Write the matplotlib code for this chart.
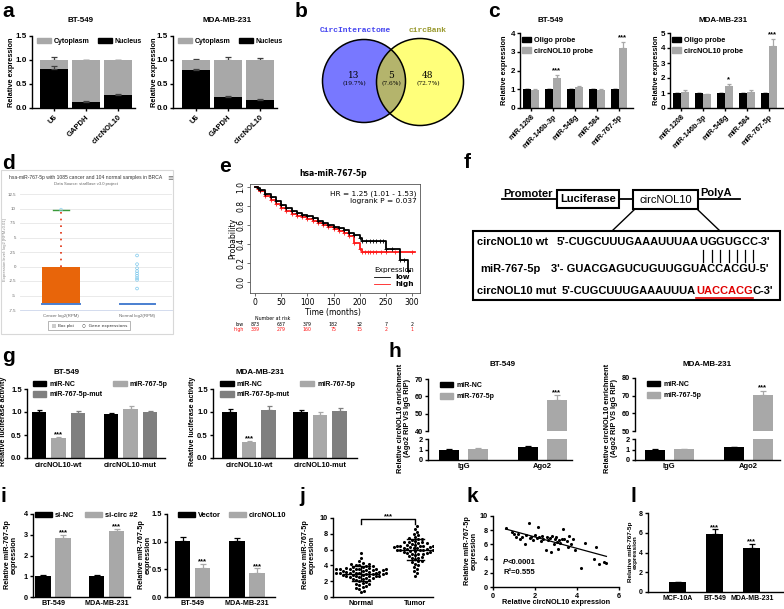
"""
circNOL10 / miR-767-5p 组合图（a–l 共 12 个子图）

直接按像素位置摆放各子图，输出 out.png（784x609）。
"""

import matplotlib
matplotlib.use("Agg")
import matplotlib.pyplot as plt
import numpy as np
from matplotlib.lines import Line2D
from matplotlib.patches import Circle, Patch, Rectangle

W, H, DPI = 784, 609, 100

# ---------------------------------------------------------------------------
# 数据
# ---------------------------------------------------------------------------

# a: 核质分布
A_GENES = ["U6", "GAPDH", "circNOL10"]
A_BT_NUC = [0.82, 0.13, 0.28]
A_BT_NUC_ERR = [0.06, 0.02, 0.02]
A_BT_TOT_ERR = [0.06, 0.01, 0.01]
A_MDA_NUC = [0.80, 0.22, 0.17]
A_MDA_NUC_ERR = [0.02, 0.03, 0.02]
A_MDA_TOT_ERR = [0.03, 0.06, 0.04]

# b: Venn
B_SETS = ["CircInteractome", "circBank"]
B_COUNTS = [13, 5, 48]
B_PCTS = ["(19.7%)", "(7.6%)", "(72.7%)"]

# c: RNA pull-down
C_MIRS = ["miR-1208", "miR-146b-3p", "miR-548g", "miR-584", "miR-767-5p"]
C_BT_OLIGO = [1.0, 1.0, 1.0, 1.0, 1.0]
C_BT_PROBE = [0.97, 1.62, 1.10, 0.98, 3.20]
C_BT_ERR = [0.04, 0.15, 0.10, 0.04, 0.32]
C_BT_SIG = ["", "***", "", "", "***"]
C_MDA_OLIGO = [1.0, 1.0, 1.0, 1.0, 1.0]
C_MDA_PROBE = [1.10, 0.93, 1.48, 1.10, 4.15]
C_MDA_ERR = [0.08, 0.02, 0.12, 0.08, 0.45]
C_MDA_SIG = ["", "", "*", "", "***"]

# d: starBase 箱线图
D_GROUPS = ["Cancer log2(RPM)", "Normal log2(RPM)"]
D_YTICKS = [-7.5, -5, -2.5, 0, 2.5, 5, 7.5, 10, 12.5]
D_YTICKLABELS = ["-7.5", "-5", "-2.5", "0", "2.5", "5", "7.5", "10", "12.5"]
D_CANCER_Q3 = 0.0
D_CANCER_MED = -6.4
D_CANCER_MAX = 9.8
D_NORMAL_MED = -6.4
D_NORMAL_OUT = [1.9, 0.4, -0.3, -0.8, -1.2, -1.6, -2.0, -2.3, -3.8]

# e: Kaplan-Meier
E_LOW_T = [0, 5, 10, 20, 30, 40, 50, 60, 70, 80, 90, 100, 110, 120, 130, 140,
           150, 160, 170, 180, 190, 200, 205, 250, 277, 293]
E_LOW_S = [1.0, 0.99, 0.97, 0.93, 0.89, 0.85, 0.81, 0.78, 0.75, 0.73, 0.71, 0.69,
           0.67, 0.645, 0.625, 0.60, 0.58, 0.565, 0.545, 0.52, 0.49, 0.46, 0.43,
           0.35, 0.23, 0.12]
E_LOW_END = 296
E_LOW_CENSOR = [212, 220, 226, 232, 238, 244, 262, 285]
E_HIGH_T = [0, 5, 10, 20, 30, 40, 50, 60, 70, 80, 90, 100, 110, 120, 130, 140,
            150, 160, 170, 180, 190, 200, 205]
E_HIGH_S = [1.0, 0.98, 0.96, 0.91, 0.86, 0.82, 0.78, 0.75, 0.72, 0.70, 0.68,
            0.66, 0.64, 0.62, 0.60, 0.58, 0.555, 0.54, 0.52, 0.48, 0.41, 0.35, 0.32]
E_HIGH_END = 305
E_HIGH_CENSOR = [210, 215, 220, 226, 232, 240, 250, 268, 300]
E_RISK_T = [0, 50, 100, 150, 200, 250, 300]
E_RISK_LOW = [873, 637, 379, 182, 32, 7, 2]
E_RISK_HIGH = [389, 279, 160, 75, 15, 2, 1]

# g: 双荧光素酶
G_GROUPS = ["circNOL10-wt", "circNOL10-mut"]
G_SERIES = ["miR-NC", "miR-767-5p", "miR-767-5p-mut"]
G_BT = [[1.01, 0.95], [0.43, 1.06], [0.97, 0.99]]
G_BT_ERR = [[0.03, 0.03], [0.03, 0.06], [0.06, 0.03]]
G_BT_SIG = [["", ""], ["***", ""], ["", ""]]
G_MDA = [[1.01, 1.00], [0.34, 0.94], [1.05, 1.03]]
G_MDA_ERR = [[0.05, 0.04], [0.03, 0.05], [0.07, 0.05]]
G_MDA_SIG = [["", ""], ["***", ""], ["", ""]]

# h: RIP
H_GROUPS = ["IgG", "Ago2"]
H_BT_NC = [1.0, 1.25]
H_BT_NC_ERR = [0.03, 0.08]
H_BT_MIR = [1.06, 57.8]
H_BT_MIR_ERR = [0.05, 3.0]
H_MDA_NC = [1.0, 1.22]
H_MDA_NC_ERR = [0.03, 0.05]
H_MDA_MIR = [1.05, 70.3]
H_MDA_MIR_ERR = [0.04, 2.6]

# i: 敲低 / 过表达
I_CELLS = ["BT-549", "MDA-MB-231"]
I_SINC = [1.02, 1.02]
I_SINC_ERR = [0.05, 0.05]
I_SICIRC = [2.85, 3.18]
I_SICIRC_ERR = [0.15, 0.12]
I_VECTOR = [1.01, 1.01]
I_VECTOR_ERR = [0.07, 0.05]
I_OE = [0.52, 0.43]
I_OE_ERR = [0.08, 0.09]

# j: 组织表达
J_NORMAL = [5.6, 4.9, 4.5, 4.3, 4.2, 4.2, 4.1, 4.0, 3.9, 3.9, 3.8, 3.8, 3.7, 3.7,
            3.6, 3.6, 3.6, 3.5, 3.5, 3.5, 3.5, 3.4, 3.4, 3.4, 3.3, 3.3, 3.3, 3.2,
            3.2, 3.2, 3.1, 3.1, 3.1, 3.0, 3.0, 3.0, 3.0, 2.9, 2.9, 2.9, 2.8, 2.8,
            2.8, 2.7, 2.7, 2.7, 2.6, 2.6, 2.5, 2.5, 2.4, 2.4, 2.3, 2.3, 2.2, 2.1,
            2.0, 1.9, 1.8, 1.7, 1.6, 1.5, 1.4, 1.3, 1.1, 1.0, 0.8, 0.6]
J_TUMOR = [9.0, 8.6, 8.2, 8.0, 7.8, 7.6, 7.5, 7.4, 7.3, 7.2, 7.1, 7.0, 7.0, 6.9,
           6.8, 6.8, 6.7, 6.6, 6.6, 6.5, 6.5, 6.5, 6.4, 6.4, 6.3, 6.3, 6.3, 6.2,
           6.2, 6.2, 6.1, 6.1, 6.1, 6.0, 6.0, 6.0, 5.9, 5.9, 5.8, 5.8, 5.7, 5.7,
           5.6, 5.6, 5.5, 5.5, 5.4, 5.3, 5.2, 5.1, 5.0, 4.9, 4.8, 4.6, 4.5, 4.4,
           4.2, 4.0, 3.8, 3.6, 3.3, 3.0, 2.6]
J_GROUPS = ["Normal", "Tumor"]

# k: 相关性
K_X = [0.6, 0.9, 1.0, 1.1, 1.2, 1.3, 1.4, 1.5, 1.55, 1.7, 1.75, 1.8, 1.9, 2.0,
       2.1, 2.15, 2.2, 2.3, 2.35, 2.4, 2.5, 2.55, 2.6, 2.7, 2.75, 2.8, 2.9, 2.95,
       3.0, 3.05, 3.1, 3.15, 3.2, 3.3, 3.35, 3.4, 3.5, 3.55, 3.6, 3.7, 3.8, 3.9,
       4.2, 4.4, 4.8, 4.9, 5.05, 5.3, 5.4]
K_Y = [8.3, 7.7, 7.4, 7.0, 7.5, 6.8, 7.1, 6.0, 7.3, 9.0, 6.9, 7.0, 6.6, 7.3,
       6.9, 8.4, 7.0, 6.5, 7.2, 6.8, 5.2, 7.0, 6.6, 6.9, 4.9, 7.2, 6.0, 6.7,
       7.0, 6.4, 5.3, 6.6, 6.2, 6.8, 8.2, 6.7, 6.5, 5.7, 7.2, 6.0, 6.7, 5.2,
       2.7, 6.2, 3.9, 5.6, 3.2, 3.5, 3.4]

# l: 细胞系表达
L_CELLS = ["MCF-10A", "BT-549", "MDA-MB-231"]
L_VALS = [1.0, 5.85, 4.45]
L_ERR = [0.06, 0.50, 0.40]
L_SIG = ["", "***", "***"]

# ---------------------------------------------------------------------------
# 样式
# ---------------------------------------------------------------------------

BLACK = "#000000"
LGRAY = "#a8a8a8"
DGRAY = "#7f7f7f"
ERRC = "#404040"

plt.rcParams.update({
    "font.family": ["Liberation Sans", "DejaVu Sans"],
    "font.weight": "bold",
    "axes.labelweight": "bold",
    "axes.linewidth": 1.0,
    "xtick.major.width": 1.0,
    "ytick.major.width": 1.0,
    "xtick.major.size": 2.5,
    "ytick.major.size": 2.5,
    "xtick.major.pad": 1.5,
    "ytick.major.pad": 1.2,
    "xtick.labelsize": 5.5,
    "ytick.labelsize": 5.5,
})

fig = plt.figure(figsize=(W / DPI, H / DPI), dpi=DPI)
fig.patch.set_facecolor("white")


def add_ax(left, top, right, bottom):
    """按像素矩形添加坐标轴（原点在左上）。"""
    return fig.add_axes([left / W, 1 - bottom / H, (right - left) / W, (bottom - top) / H])


def ptext(x, y, s, **kw):
    return fig.text(x / W, 1 - y / H, s, **kw)


def chain(x, y, parts, **kw):
    """依次拼接多段文字，返回每段的像素横向范围。"""
    renderer = fig.canvas.get_renderer()
    spans = []
    for s, extra in parts:
        t = ptext(x, y, s, ha="left", **{**kw, **extra})
        bb = t.get_window_extent(renderer)
        spans.append((bb.x0, bb.x1))
        x = bb.x1
    return spans


def prism(ax, fs=5.5):
    for side in ("top", "right"):
        ax.spines[side].set_visible(False)
    ax.tick_params(direction="out", labelsize=fs)


def up_err(ax, x, top, err, color=ERRC, z=1, cap=2.0):
    ax.errorbar(x, top, yerr=[np.zeros(len(err)), err], fmt="none", ecolor=color,
                elinewidth=0.9, capsize=cap, capthick=0.9, zorder=z)


def stars(ax, x, top, err, marks, dy, fs=5.5):
    for xi, t, e, m in zip(x, top, err, marks):
        if m:
            ax.text(xi, t + e + dy, m, ha="center", va="bottom", fontsize=fs)


def legend(ax, items, anchor, ncol=1, fs=5.0, hl=1.3, hh=0.7, cs=1.0, ls=0.35):
    handles = [Patch(color=c, label=l) for l, c in items]
    ax.legend(handles=handles, loc="upper left", bbox_to_anchor=anchor, ncol=ncol,
              frameon=False, fontsize=fs, handlelength=hl, handleheight=hh,
              handletextpad=0.4, columnspacing=cs, labelspacing=ls,
              borderaxespad=0, borderpad=0)


def ylab(x, y, s, fs=5.3):
    ptext(x, y, s, rotation=90, ha="center", va="center", fontsize=fs,
          multialignment="center", linespacing=1.0)


# 子图字母
for letter, lx, ly in [("a", 2, 2), ("b", 295, 2), ("c", 488, 2), ("d", 2, 154),
                       ("e", 219, 157), ("f", 464, 153), ("g", 2, 347), ("h", 389, 342),
                       ("i", 1, 487), ("j", 299, 487), ("k", 466, 487), ("l", 630, 487)]:
    ptext(lx, ly, letter, fontsize=15, va="top", ha="left")

# ---------------------------------------------------------------------------
# a
# ---------------------------------------------------------------------------


def draw_a(rect, x0, title, tx, nuc, nuc_err, tot_err, ylx):
    ax = add_ax(*rect)
    prism(ax, 5.8)
    x = np.arange(len(A_GENES))
    nuc = np.asarray(nuc)
    ax.bar(x, nuc, 0.9, color=BLACK, zorder=2)
    ax.bar(x, 1 - nuc, 0.9, bottom=nuc, color=LGRAY, zorder=2)
    up_err(ax, x, np.ones(len(x)), tot_err, ERRC, 1)
    up_err(ax, x, nuc, nuc_err, ERRC, 3)
    ax.set_ylim(0, 1.5)
    ax.set_yticks([0, 0.5, 1.0, 1.5], ["0.0", "0.5", "1.0", "1.5"])
    ax.set_xlim(-(x0 - rect[0]) / 32, (rect[2] - x0) / 32)
    ax.set_xticks(x, A_GENES, rotation=45, ha="right", rotation_mode="anchor", fontsize=5.5)
    legend(ax, [("Cytoplasm", LGRAY), ("Nucleus", BLACK)], (0.05, 0.975), ncol=2,
           fs=5.0, hl=2.0, hh=0.8, cs=1.2)
    ptext(tx, 20, title, ha="center", va="center", fontsize=5.8)
    ylab(ylx, 72, "Relative expression")


draw_a((32, 36, 135, 108), 54, "BT-549", 80, A_BT_NUC, A_BT_NUC_ERR, A_BT_TOT_ERR, 12)
draw_a((173, 36, 277, 108), 196, "MDA-MB-231", 227, A_MDA_NUC, A_MDA_NUC_ERR, A_MDA_TOT_ERR, 154)

# ---------------------------------------------------------------------------
# b
# ---------------------------------------------------------------------------

axb = add_ax(290, 15, 480, 150)
axb.set_xlim(290, 480)
axb.set_ylim(150, 15)
axb.axis("off")
c_left = Circle((364, 81), 41.5, fc="#7878ff", ec="none")
c_right = Circle((420, 82), 43.5, fc="#ffff7a", ec="none")
axb.add_patch(c_left)
axb.add_patch(c_right)
c_mid = Circle((420, 82), 43.5, fc="#b4b46c", ec="none")
axb.add_patch(c_mid)
c_mid.set_clip_path(c_left)
axb.add_patch(Circle((364, 81), 41.5, fill=False, ec="black", lw=1.1))
axb.add_patch(Circle((420, 82), 43.5, fill=False, ec="black", lw=1.1))
for (cx, n, p) in zip([354, 391.5, 428], B_COUNTS, B_PCTS):
    axb.text(cx, 80, str(n), ha="center", va="bottom", fontsize=6.5,
             family="DejaVu Serif", fontweight="normal")
    axb.text(cx, 81, p, ha="center", va="top", fontsize=4.2,
             family="DejaVu Serif", fontweight="normal")
axb.text(355, 31, B_SETS[0], ha="center", va="center", fontsize=5.8,
         family="Liberation Mono", color="#4646f0")
axb.text(428, 31, B_SETS[1], ha="center", va="center", fontsize=5.8,
         family="Liberation Mono", color="#9a9a30")

# ---------------------------------------------------------------------------
# c
# ---------------------------------------------------------------------------


def draw_c(rect, g0, title, tx, ymax, oligo, probe, err, sig, ylx):
    ax = add_ax(*rect)
    prism(ax, 5.8)
    x = np.arange(len(C_MIRS))
    w = 0.36
    ax.bar(x - w / 2, oligo, w, color=BLACK, zorder=2)
    ax.bar(x + w / 2, probe, w, color=LGRAY, zorder=2)
    up_err(ax, x - w / 2, oligo, [0.01] * len(x), BLACK, 1, 1.5)
    up_err(ax, x + w / 2, probe, err, LGRAY, 1, 1.5)
    stars(ax, x + w / 2, probe, err, sig, 0.02, 5.5)
    ax.set_ylim(0, ymax)
    ax.set_yticks(range(ymax + 1))
    ax.set_xlim(-(g0 - rect[0]) / 22, (rect[2] - g0) / 22)
    ax.set_xticks(x, C_MIRS, rotation=45, ha="right", rotation_mode="anchor", fontsize=5.3)
    legend(ax, [("Oligo probe", BLACK), ("circNOL10 probe", LGRAY)], (0.015, 0.95),
           fs=5.3, hl=1.3, hh=0.8, ls=0.45)
    ptext(tx, 20, title, ha="center", va="center", fontsize=5.8)
    ylab(ylx, 70, "Relative expression")


draw_c((520, 33, 633, 108), 531, "BT-549", 550, 4, C_BT_OLIGO, C_BT_PROBE, C_BT_ERR, C_BT_SIG, 505)
draw_c((670, 33, 783, 108), 681, "MDA-MB-231", 723, 5, C_MDA_OLIGO, C_MDA_PROBE, C_MDA_ERR, C_MDA_SIG, 657)

# ---------------------------------------------------------------------------
# d（starBase 网页截图样式）
# ---------------------------------------------------------------------------

fig.add_artist(Rectangle((1 / W, 1 - 334 / H), 172 / W, 164 / H, transform=fig.transFigure,
                         fill=False, ec="#d8d8d8", lw=0.8))
axd = add_ax(20, 194, 172, 310)
axd.set_ylim(-7.5, 12.5)
axd.set_xlim(-0.54, 1.46)
axd.set_yticks(D_YTICKS, D_YTICKLABELS, fontweight="normal", fontsize=3.2, color="#666666")
axd.set_xticks([0, 1], D_GROUPS, fontweight="normal", fontsize=3.2, color="#666666")
axd.tick_params(length=0, pad=3)
axd.grid(axis="y", color="#e6e6e6", lw=0.6)
axd.set_axisbelow(True)
for side in ("top", "right", "left"):
    axd.spines[side].set_visible(False)
axd.spines["bottom"].set_color("#ccd6eb")
axd.spines["bottom"].set_linewidth(0.6)
axd.bar(0, D_CANCER_Q3 - D_CANCER_MED, 0.49, bottom=D_CANCER_MED, color="#e8650a", zorder=2)
axd.plot([-0.245, 0.245], [D_CANCER_MED] * 2, color="#4a7fd0", lw=1.4, zorder=3)
axd.plot([0, 0], [D_CANCER_Q3, D_CANCER_MAX], color="#e03010", ls=(0, (1, 3)), lw=1.2, zorder=3)
axd.plot([-0.1, 0.1], [D_CANCER_MAX] * 2, color="#3a9a3a", lw=1.0, zorder=3)
axd.scatter([0], [D_CANCER_MAX], facecolors="none", edgecolors="#8fd3f0", s=4, lw=0.5, zorder=4)
axd.plot([1 - 0.23, 1 + 0.23], [D_NORMAL_MED] * 2, color="#4a7fd0", lw=1.4, zorder=3)
axd.scatter([1] * len(D_NORMAL_OUT), D_NORMAL_OUT, facecolors="none", edgecolors="#7cc8ec",
            s=4, lw=0.5, zorder=4)
ptext(86, 178, "hsa-miR-767-5p with 1085 cancer and 104 normal samples in BRCA",
      ha="center", va="center", fontsize=3.6, fontweight="normal", color="#333333")
ptext(86, 184.5, "Data Source: starBase v3.0 project", ha="center", va="center",
      fontsize=3.0, fontweight="normal", color="#666666")
ptext(170, 178, "≡", ha="center", va="center", fontsize=5, fontweight="normal",
      color="#666666", family="DejaVu Sans")
ptext(5, 250, "Expression level: log2 [RPM+0.01]", rotation=90, ha="center", va="center",
      fontsize=3.0, fontweight="normal", color="#888888")
fig.add_artist(Rectangle((48 / W, 1 - 330 / H), 82 / W, 9 / H, transform=fig.transFigure,
                         fill=False, ec="#999999", lw=0.5))
fig.add_artist(Rectangle((52 / W, 1 - 327.5 / H), 4 / W, 4 / H, transform=fig.transFigure,
                         fc="#cccccc", ec="none"))
ptext(58, 325.5, "Box plot", ha="left", va="center", fontsize=3.2, fontweight="normal",
      color="#333333")
ptext(82, 325.5, "○  Gene expressions", ha="left", va="center", fontsize=3.2,
      fontweight="normal", color="#333333", family="DejaVu Sans")

# ---------------------------------------------------------------------------
# e（KM 曲线）
# ---------------------------------------------------------------------------

KM_FONT = dict(family="DejaVu Sans", fontweight="normal")
axe = add_ax(250, 184, 420, 293)
for side in axe.spines.values():
    side.set_linewidth(0.6)
    side.set_color("#555555")


def km(ax, t, s, end, censor, color):
    t = np.asarray(t, float)
    s = np.asarray(s, float)
    ax.step(np.append(t, end), np.append(s, s[-1]), where="post", color=color, lw=1.3)
    ax.plot(t[1:], s[1:], "+", color=color, ms=2.5, mew=0.6)
    cs = s[np.searchsorted(t, censor, side="right") - 1]
    ax.plot(censor, cs, "+", color=color, ms=2.5, mew=0.6)


km(axe, E_HIGH_T, E_HIGH_S, E_HIGH_END, E_HIGH_CENSOR, "#ff1a1a")
km(axe, E_LOW_T, E_LOW_S, E_LOW_END, E_LOW_CENSOR, "black")
axe.set_xlim(-9.6, 315.3)
axe.set_ylim(-0.116, 1.032)
axe.set_xticks(E_RISK_T, [str(v) for v in E_RISK_T], fontsize=5.5, **KM_FONT)
axe.set_yticks([0, 0.2, 0.4, 0.6, 0.8, 1.0], ["0.0", "0.2", "0.4", "0.6", "0.8", "1.0"],
               fontsize=5.5, rotation=90, va="center", **KM_FONT)
axe.tick_params(length=2, width=0.6, color="#555555", pad=1.5)
axe.text(0.98, 0.94, "HR = 1.25 (1.01 - 1.53)\nlogrank P = 0.037", transform=axe.transAxes,
         ha="right", va="top", fontsize=5.3, linespacing=1.1, **KM_FONT)
leg = axe.legend(handles=[Line2D([], [], color="black", lw=0.6, label="low"),
                          Line2D([], [], color="#ff1a1a", lw=0.6, label="high")],
                 title="Expression", loc="lower right", bbox_to_anchor=(1.0, 0.0),
                 frameon=False, title_fontsize=5.3, handlelength=2.2,
                 labelspacing=0.1, borderpad=0.3, prop=dict(size=5.3, family="DejaVu Sans"))
leg.get_title().set_fontweight("normal")
leg.get_title().set_family("DejaVu Sans")
ptext(333, 174, "hsa-miR-767-5p", ha="center", va="center", fontsize=5.5,
      family="DejaVu Sans", fontweight="bold")
ptext(333, 313, "Time (months)", ha="center", va="center", fontsize=5.5, **KM_FONT)
ptext(233, 238, "Probability", rotation=90, ha="center", va="center", fontsize=5.5, **KM_FONT)
xt = axe.get_xaxis_transform()
axe.text(0, -0.235, "Number at risk", transform=xt, ha="left", va="center", fontsize=3.4,
         **KM_FONT)
axe.text(-22, -0.285, "low", transform=xt, ha="right", va="center", fontsize=3.4, **KM_FONT)
axe.text(-22, -0.332, "high", transform=xt, ha="right", va="center", fontsize=3.4,
         color="#ff1a1a", **KM_FONT)
for t, lo, hi in zip(E_RISK_T, E_RISK_LOW, E_RISK_HIGH):
    axe.text(t, -0.285, str(lo), transform=xt, ha="center", va="center", fontsize=3.4, **KM_FONT)
    axe.text(t, -0.332, str(hi), transform=xt, ha="center", va="center", fontsize=3.4,
             color="#ff1a1a", **KM_FONT)

# ---------------------------------------------------------------------------
# f（报告基因示意）
# ---------------------------------------------------------------------------

axf = add_ax(465, 150, 784, 310)
axf.set_xlim(465, 784)
axf.set_ylim(310, 150)
axf.axis("off")
LW = 1.3
axf.plot([502, 557], [199, 199], "k-", lw=LW)
axf.plot([619, 633], [199, 199], "k-", lw=LW)
axf.plot([698, 740], [199, 199], "k-", lw=LW)
axf.add_patch(Rectangle((557, 190), 62, 18, fill=False, ec="black", lw=1.5))
axf.add_patch(Rectangle((633, 190), 65, 19, fill=False, ec="black", lw=1.5))
axf.plot([635, 612], [209, 231], "k-", lw=1.0)
axf.plot([697, 720], [209, 231], "k-", lw=1.0)
axf.add_patch(Rectangle((473, 231), 307, 69, fill=False, ec="black", lw=1.5))
FS = 8
ptext(503, 197, "Promoter", ha="left", va="baseline", fontsize=FS)
ptext(588, 199.5, "Luciferase", ha="center", va="center", fontsize=FS)
ptext(665.5, 200, "circNOL10", ha="center", va="center", fontsize=FS, fontweight="normal")
ptext(700, 196, "PolyA", ha="left", va="baseline", fontsize=FS)
ptext(477, 242, "circNOL10 wt", ha="left", va="center", fontsize=FS)
ptext(480, 269, "miR-767-5p", ha="left", va="center", fontsize=FS)
ptext(477, 291, "circNOL10 mut", ha="left", va="center", fontsize=FS)
wt_spans = chain(557, 242, [("5'-CUGCUUUGAAAUUUAA", {})] + [(ch, {}) for ch in "UGGUGCC"]
                 + [("-3'", {})], fontsize=FS, va="center")
chain(551, 269, [("3'- GUACGAGUCUGUUGGUACCACGU-5'", {})], fontsize=FS, va="center")
mut_spans = chain(562, 291, [("5'-CUGCUUUGAAAUUUA", {}), ("UACCACG", {"color": "#e00000"}),
                             ("C-3'", {})], fontsize=FS, va="center")
for x0, x1 in wt_spans[1:8]:
    xc = (x0 + x1) / 2
    axf.plot([xc, xc], [250, 262], "k-", lw=0.9)
ux0, ux1 = mut_spans[1]
axf.plot([ux0, ux1], [297.5, 297.5], color="#e00000", lw=1.2)

# ---------------------------------------------------------------------------
# g
# ---------------------------------------------------------------------------

G_COLORS = [BLACK, LGRAY, DGRAY]


def draw_g(rect, g0, pitch, title, tx, vals, errs, sigs, ylx, leg_anchor):
    ax = add_ax(*rect)
    prism(ax, 5.5)
    x = np.arange(len(G_GROUPS))
    step = 19.5 / pitch
    w = 14.5 / pitch
    for k in range(3):
        xs = x + (k - 1) * step
        ax.bar(xs, vals[k], w, color=G_COLORS[k], zorder=2)
        up_err(ax, xs, vals[k], errs[k], G_COLORS[k], 1, 1.8)
        stars(ax, xs, vals[k], errs[k], sigs[k], -0.03, 5.5)
    ax.set_ylim(0, 1.5)
    ax.set_yticks([0, 0.5, 1.0, 1.5], ["0.0", "0.5", "1.0", "1.5"])
    ax.set_xlim(-(g0 - rect[0]) / pitch, (rect[2] - g0) / pitch)
    ax.set_xticks(x, G_GROUPS, fontsize=5.3)
    ax.tick_params(axis="x", length=0, pad=3)
    items = [(G_SERIES[0], BLACK), (G_SERIES[2], DGRAY), (G_SERIES[1], LGRAY)]
    legend(ax, items, leg_anchor, ncol=2, fs=5.0, hl=2.0, hh=0.9, cs=1.5, ls=0.4)
    ptext(tx, 373, title, ha="center", va="center", fontsize=5.8)
    ylab(ylx, 421, "Relative luciferase activity", fs=5.1)


draw_g((27, 389, 165, 458), 58.5, 72, "BT-549", 67, G_BT, G_BT_ERR, G_BT_SIG, 4, (0.04, 1.12))
draw_g((213, 389, 357, 458), 249, 71, "MDA-MB-231", 260, G_MDA, G_MDA_ERR, G_MDA_SIG, 193,
       (0.05, 1.12))

# ---------------------------------------------------------------------------
# h（断轴）
# ---------------------------------------------------------------------------


def draw_h(left, right, g0, pitch, hi_top, hi_bot, lo_top, lo_bot, hi_lim, hi_ticks,
           nc, nc_err, mir, mir_err, title, tx, ylx):
    ax_hi = add_ax(left, hi_top, right, hi_bot)
    ax_lo = add_ax(left, lo_top, right, lo_bot)
    x = np.arange(len(H_GROUPS))
    off = 14.5 / pitch
    w = 20 / pitch
    for ax in (ax_hi, ax_lo):
        prism(ax, 5.3)
        ax.bar(x - off, nc, w, color=BLACK, zorder=2)
        ax.bar(x + off, mir, w, color=LGRAY, zorder=2)
        up_err(ax, x - off, nc, nc_err, BLACK, 1, 2)
        up_err(ax, x + off, mir, mir_err, LGRAY, 1, 2)
        ax.set_xlim(-(g0 - left) / pitch, (right - g0) / pitch)
    ax_hi.text(1 + off, mir[1] + mir_err[1] - 0.5, "***", ha="center", va="bottom", fontsize=5.5)
    ax_hi.set_ylim(*hi_lim)
    ax_hi.set_yticks(hi_ticks)
    ax_hi.spines["bottom"].set_visible(False)
    ax_hi.set_xticks([])
    ax_lo.set_ylim(0, 2)
    ax_lo.set_yticks([0, 1, 2])
    ax_lo.set_xticks(x, H_GROUPS, fontsize=5.5)
    ax_lo.tick_params(axis="x", length=0, pad=2)
    legend(ax_hi, [("miR-NC", BLACK), ("miR-767-5p", LGRAY)], (0.08, 0.95),
           fs=5.0, hl=2.0, hh=0.9, ls=0.6)
    ptext(tx, 365, title, ha="center", va="center", fontsize=5.8)
    ylab(ylx, 418, "Relative circNOL10 enrichment\n(Ago2 RIP VS IgG RIP)", fs=5.3)


draw_h(428, 572, 463.5, 78.5, 379, 431, 439, 460, (40, 70), [40, 50, 60, 70],
       H_BT_NC, H_BT_NC_ERR, H_BT_MIR, H_BT_MIR_ERR, "BT-549", 503, 404)
draw_h(635, 780, 669, 79, 378, 431, 439, 460, (50, 80), [50, 60, 70, 80],
       H_MDA_NC, H_MDA_NC_ERR, H_MDA_MIR, H_MDA_MIR_ERR, "MDA-MB-231", 707, 611)

# ---------------------------------------------------------------------------
# i
# ---------------------------------------------------------------------------


def draw_i(rect, g0, pitch, ymax, yticks, yticklabels, a, a_err, b, b_err, labels, leg_anchor,
           cs, ylx):
    ax = add_ax(*rect)
    prism(ax, 5.3)
    x = np.arange(len(I_CELLS))
    off = 10 / pitch
    w = 15.5 / pitch
    ax.bar(x - off, a, w, color=BLACK, zorder=2)
    ax.bar(x + off, b, w, color=LGRAY, zorder=2)
    up_err(ax, x - off, a, a_err, BLACK, 1, 2)
    up_err(ax, x + off, b, b_err, LGRAY, 1, 2)
    stars(ax, x + off, b, b_err, ["***"] * 2, -ymax * 0.02, 5.5)
    ax.set_ylim(0, ymax)
    ax.set_yticks(yticks, yticklabels)
    ax.set_xlim(-(g0 - rect[0]) / pitch, (rect[2] - g0) / pitch)
    ax.set_xticks(x, I_CELLS, fontsize=5.2)
    ax.tick_params(axis="x", length=0, pad=2)
    legend(ax, list(zip(labels, [BLACK, LGRAY])), leg_anchor, ncol=2, fs=5.4, hl=2.3, hh=0.8,
           cs=cs)
    ylab(ylx, 555, "Relative miR-767-5p\nexpression", fs=5.2)


draw_i((33, 514, 130, 597), 53, 53.5, 4, [0, 1, 2, 3, 4], ["0", "1", "2", "3", "4"],
       I_SINC, I_SINC_ERR, I_SICIRC, I_SICIRC_ERR, ["si-NC", "si-circ #2"], (0.02, 1.03), 1.4, 11)
draw_i((167, 514, 275, 597), 192.5, 54.5, 1.5, [0, 0.5, 1.0, 1.5], ["0.0", "0.5", "1.0", "1.5"],
       I_VECTOR, I_VECTOR_ERR, I_OE, I_OE_ERR, ["Vector", "circNOL10"], (0.1, 1.03), 1.0, 145)

# ---------------------------------------------------------------------------
# j（蜂群散点）
# ---------------------------------------------------------------------------


def swarm(values, px_y, px_x, diam):
    """简单蜂群布局：按数值排序，依次寻找不重叠的横向偏移。"""
    values = np.asarray(values, float)
    order = np.argsort(values)
    placed = []
    offs = np.zeros(len(values))
    cands = [0.0]
    for k in range(1, 40):
        cands += [k * diam * 0.5, -k * diam * 0.5]
    for idx in order:
        y = values[idx] * px_y
        for c in cands:
            if all((c - px) ** 2 + (y - py) ** 2 >= diam ** 2 for px, py in placed):
                placed.append((c, y))
                offs[idx] = c / px_x
                break
    return offs


axj = add_ax(333, 518, 433, 597)
prism(axj, 5.3)
for gi, vals in enumerate([J_NORMAL, J_TUMOR]):
    offs = swarm(vals, 7.9, 54, 3.3)
    axj.scatter(gi + offs, vals, s=5, color="black", lw=0, zorder=2)
    m, sd = np.mean(vals), np.std(vals, ddof=1)
    axj.plot([gi - 0.33, gi + 0.33], [m, m], "k-", lw=1.0, zorder=3)
    axj.plot([gi, gi], [m - sd, m + sd], "k-", lw=1.0, zorder=3)
    for yy in (m - sd, m + sd):
        axj.plot([gi - 0.16, gi + 0.16], [yy, yy], "k-", lw=1.0, zorder=3)
axj.plot([0, 0, 1, 1], [9.3, 9.9, 9.9, 9.3], "k-", lw=1.0, clip_on=False)
axj.text(0.5, 9.75, "***", ha="center", va="bottom", fontsize=5.5)
axj.set_ylim(0, 10)
axj.set_yticks([0, 2, 4, 6, 8, 10])
axj.set_xlim(-0.52, 1.33)
axj.set_xticks([0, 1], J_GROUPS, fontsize=5.2)
axj.tick_params(axis="x", length=0, pad=2)
ylab(309, 555, "Relative miR-767-5p\nexpression", fs=5.2)

# ---------------------------------------------------------------------------
# k（相关性）
# ---------------------------------------------------------------------------

axk = add_ax(493, 516, 619, 587)
prism(axk, 5.3)
axk.scatter(K_X, K_Y, s=5, color="black", lw=0, zorder=2)
slope, intercept = np.polyfit(K_X, K_Y, 1)
xs = np.array([min(K_X), max(K_X)])
axk.plot(xs, slope * xs + intercept, "k-", lw=0.9)
axk.set_xlim(0, 6)
axk.set_ylim(0, 10)
axk.set_xticks([0, 2, 4, 6])
axk.set_yticks([0, 2, 4, 6, 8, 10])
axk.tick_params(axis="x", pad=1.5)
chain(503, 563, [("P", {"fontstyle": "italic"}), ("<0.0001", {})], fontsize=5.5, va="center")
ptext(503, 573, "R²=0.555", ha="left", va="center", fontsize=5.5)
ptext(556, 603, "Relative circNOL10 expression", ha="center", va="center", fontsize=5.3)
ylab(471, 551, "Relative miR-767-5p\nexpression", fs=5.2)

# ---------------------------------------------------------------------------
# l
# ---------------------------------------------------------------------------

axl = add_ax(648, 513, 783, 592)
prism(axl, 5.0)
xl = np.arange(len(L_CELLS))
axl.bar(xl, L_VALS, 0.46, color=BLACK, zorder=2)
up_err(axl, xl, L_VALS, L_ERR, BLACK, 1, 2)
stars(axl, xl, L_VALS, L_ERR, L_SIG, -0.15, 5.5)
axl.set_ylim(0, 8)
axl.set_yticks([0, 2, 4, 6, 8])
axl.set_xlim(-0.81, 2.84)
axl.set_xticks(xl, L_CELLS, fontsize=5.0)
axl.tick_params(axis="x", length=0, pad=2)
ylab(633, 552, "Relative miR-767-5p\nexpression", fs=4.6)

fig.savefig("out.png", dpi=DPI)
plt.close(fig)
